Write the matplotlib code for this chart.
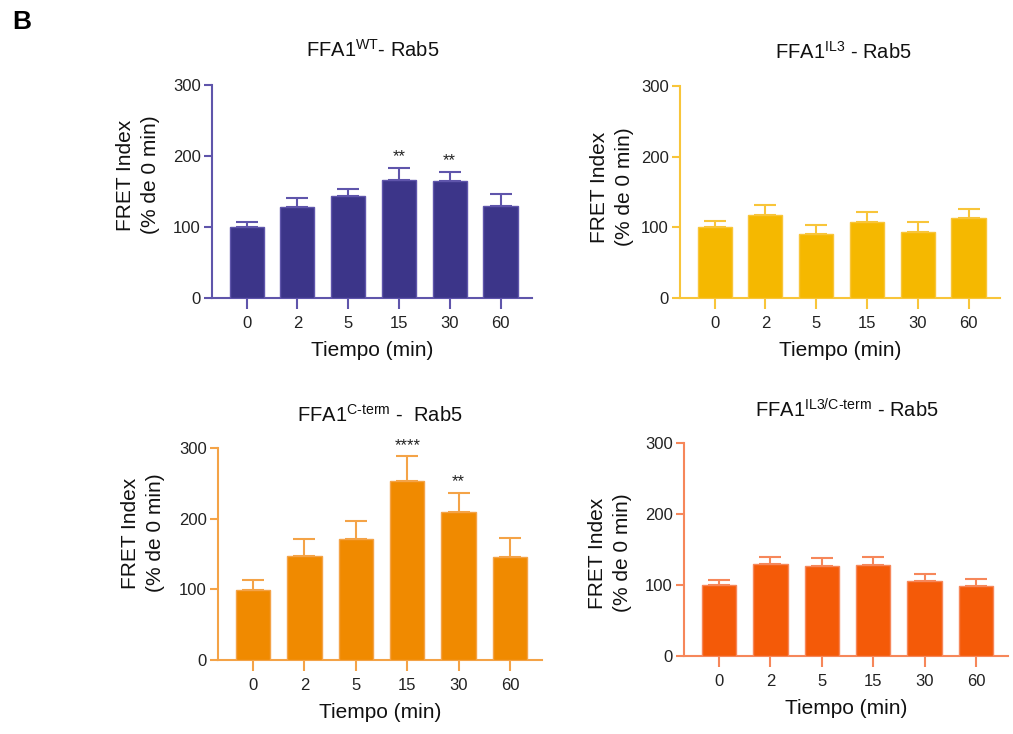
import matplotlib
matplotlib.use("Agg")
import matplotlib.pyplot as plt
import numpy as np

plt.rcParams['font.family'] = ['Liberation Sans', 'DejaVu Sans']
plt.rcParams['mathtext.fontset'] = 'custom'
plt.rcParams['mathtext.rm'] = 'Liberation Sans'
plt.rcParams['mathtext.it'] = 'Liberation Sans'
plt.rcParams['mathtext.bf'] = 'Liberation Sans:bold'

times = ['0', '2', '5', '15', '30', '60']

wt_mean = [100, 128, 144, 166, 165, 130]
wt_err = [7, 13, 10, 17, 13, 16]
wt_stars = ['', '', '', '**', '**', '']

il3_mean = [100, 117, 91, 107, 94, 113]
il3_err = [9, 15, 13, 14, 13, 13]
il3_stars = ['', '', '', '', '', '']

cterm_mean = [99, 147, 171, 254, 209, 146]
cterm_err = [14, 24, 26, 34, 27, 26]
cterm_stars = ['', '', '', '****', '**', '']

il3c_mean = [100, 130, 127, 128, 105, 98]
il3c_err = [7, 10, 11, 12, 10, 11]
il3c_stars = ['', '', '', '', '', '']

W, H = 1013, 734
fig = plt.figure(figsize=(W / 100, H / 100), dpi=100)


def px_axes(left, top, right, bottom):
    return fig.add_axes([left / W, 1 - bottom / H, (right - left) / W, (bottom - top) / H])


panels = [
    # mean, err, stars, bar colour, line colour, axes box, title, title pos, ylabel pos
    (wt_mean, wt_err, wt_stars, '#3c3589', '#5f55ab', (212, 85, 532, 298),
     r'FFA1$^{\mathrm{WT}}$- Rab5', (373, 50), (138, 175)),
    (il3_mean, il3_err, il3_stars, '#f5b800', '#f8c53a', (680, 86, 1000, 298),
     r'FFA1$^{\mathrm{IL3}}$ - Rab5', (843, 52), (612, 187)),
    (cterm_mean, cterm_err, cterm_stars, '#f08a00', '#f4a347', (218, 448, 542, 660),
     r'FFA1$^{\text{C-term}}$ -  Rab5', (380, 415), (143, 533)),
    (il3c_mean, il3c_err, il3c_stars, '#f45a08', '#f6875a', (684, 443, 1008, 656),
     r'FFA1$^{\text{IL3/C-term}}$ - Rab5', (847, 410), (610, 553)),
]

for mean, err, stars, col, lcol, box, title, tpos, ylpos in panels:
    ax = px_axes(*box)
    x = np.arange(len(times))
    ax.bar(x, mean, width=0.67, color=col, edgecolor=lcol, linewidth=1, zorder=3)
    ax.errorbar(x, mean, yerr=[np.zeros(len(err)), err], fmt='none', ecolor=lcol,
                elinewidth=1.5, capsize=8, capthick=1.5, zorder=4)
    for xi, m, e, s in zip(x, mean, err, stars):
        if s:
            ax.text(xi, m + e + 16, s, ha='center', va='center', fontsize=12,
                    color='#222222', clip_on=False)
    ax.set_xlim(-0.68, 5.62)
    ax.set_ylim(0, 300)
    ax.set_yticks([0, 100, 200, 300])
    ax.set_xticks(x)
    ax.set_xticklabels(times)
    for side in ['top', 'right']:
        ax.spines[side].set_visible(False)
    for side in ['left', 'bottom']:
        ax.spines[side].set_color(lcol)
        ax.spines[side].set_linewidth(1.5)
    ax.tick_params(axis='y', colors=lcol, labelcolor='#222222', length=6, width=1.5,
                   labelsize=12, pad=2)
    ax.tick_params(axis='x', colors=lcol, labelcolor='#222222', length=8, width=1.5,
                   labelsize=12, pad=5)
    ax.set_xlabel('Tiempo (min)', fontsize=15, labelpad=7, color='#111111')
    fig.text(ylpos[0] / W, 1 - ylpos[1] / H, 'FRET Index\n(% de 0 min)', rotation=90,
             ha='center', va='center', fontsize=15, linespacing=1.4, color='#111111')
    fig.text(tpos[0] / W, 1 - tpos[1] / H, title, ha='center', va='center',
             fontsize=14.5, color='#111111')

fig.text(22 / W, 1 - 22 / H, 'B', fontsize=19, fontweight='bold', ha='center', va='center')

fig.savefig('out.png', dpi=100)
